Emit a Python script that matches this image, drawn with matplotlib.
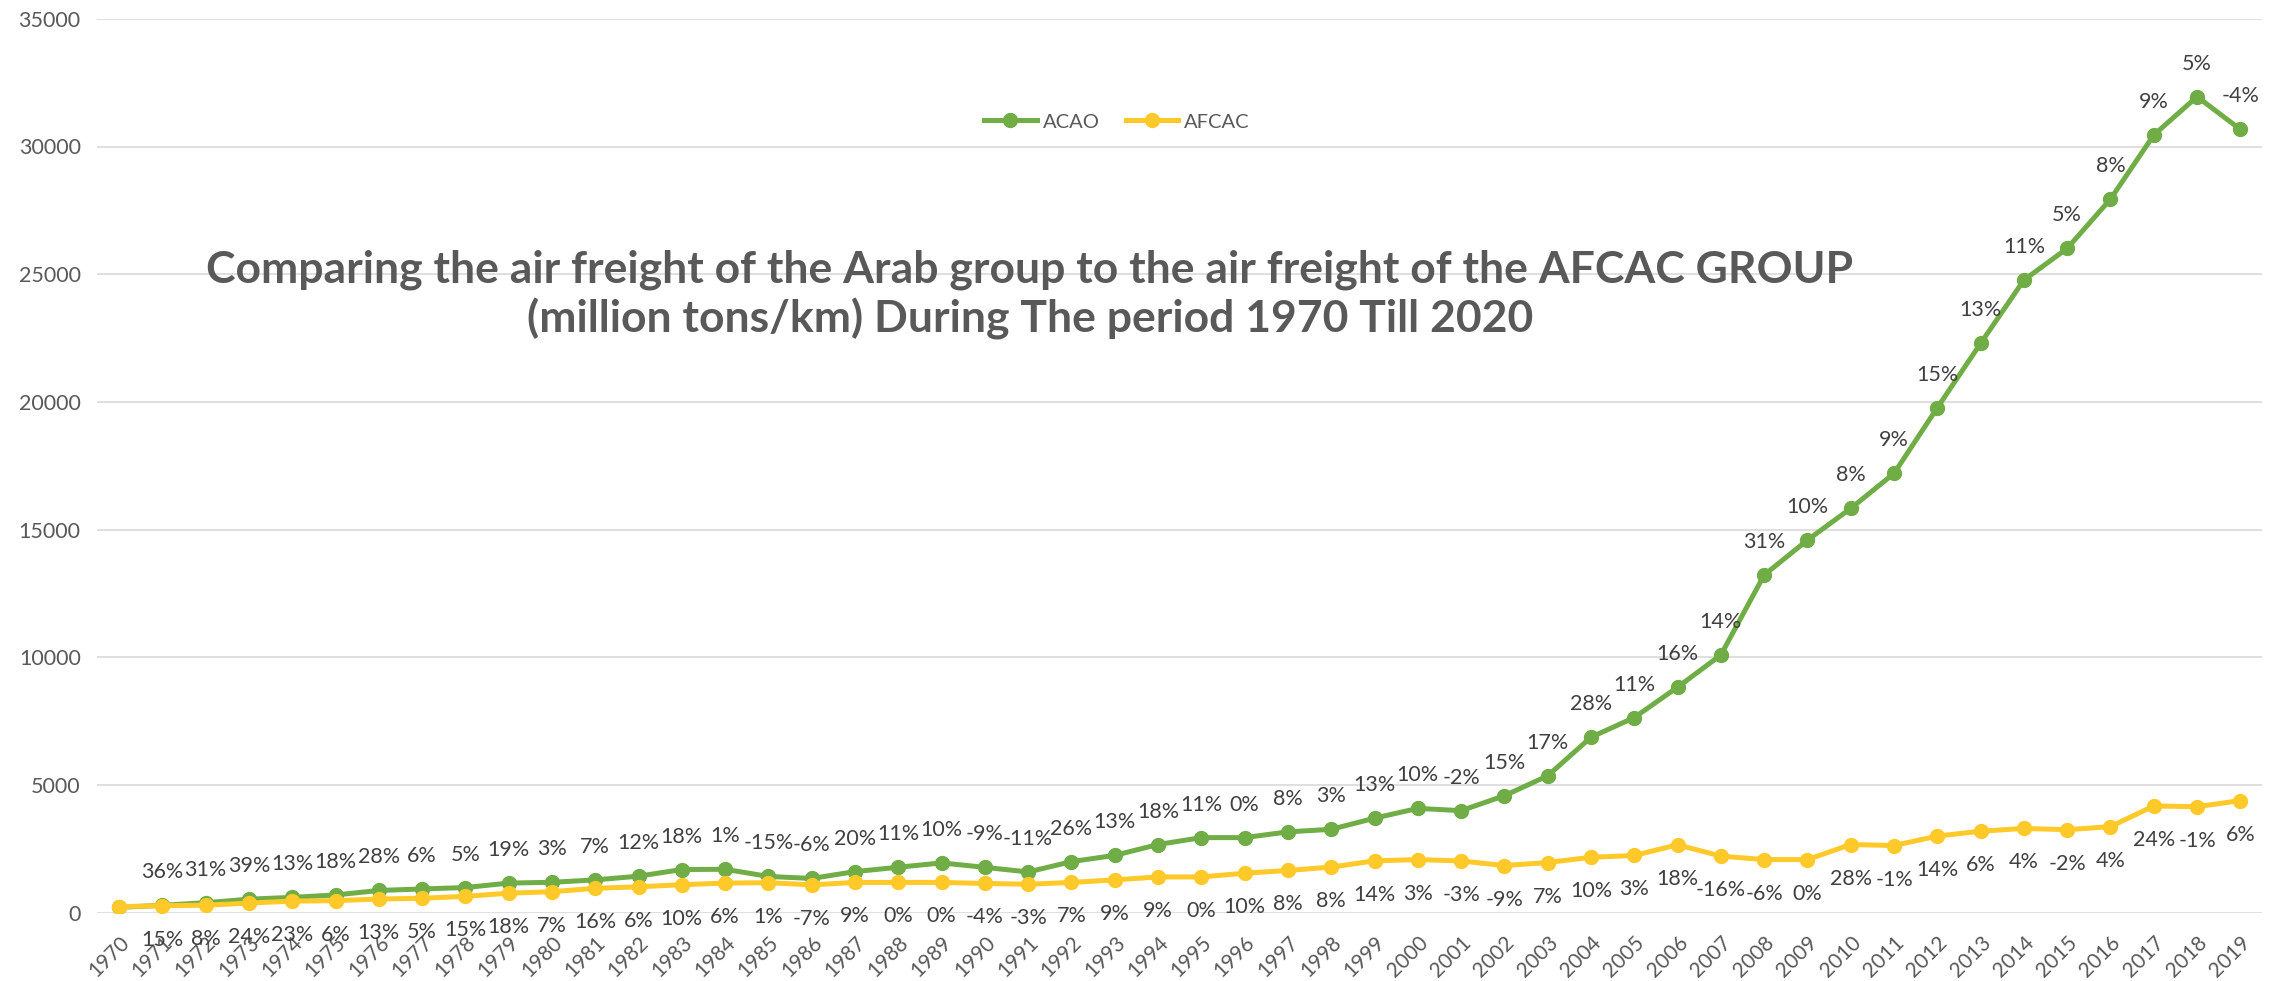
import matplotlib
matplotlib.use("Agg")
import matplotlib.pyplot as plt

plt.rcParams['font.family'] = ['Lato', 'DejaVu Sans']

years = ["1970", "1971", "1972", "1973", "1974", "1975", "1976", "1977", "1978", "1979",
         "1980", "1981", "1982", "1983", "1984", "1985", "1986", "1987", "1988", "1989",
         "1990", "1991", "1992", "1993", "1994", "1995", "1996", "1997", "1998", "1999",
         "2000", "2001", "2002", "2003", "2004", "2005", "2006", "2007", "2008", "2009",
         "2010", "2011", "2012", "2013", "2014", "2015", "2016", "2017", "2018", "2019"]

acao = [210, 290, 390, 530, 600, 695, 870, 930, 985, 1160,
        1190, 1285, 1430, 1690, 1700, 1420, 1340, 1610, 1780, 1950,
        1775, 1595, 2000, 2245, 2670, 2940, 2940, 3165, 3265, 3700,
        4085, 3995, 4580, 5360, 6870, 7640, 8830, 10090, 13220, 14590,
        15830, 17200, 19770, 22290, 24770, 26010, 27940, 30450, 31950, 30670]

afcac = [235, 275, 295, 375, 455, 470, 535, 565, 640, 765,
         822, 955, 1015, 1095, 1160, 1175, 1090, 1185, 1185, 1185,
         1145, 1115, 1185, 1285, 1400, 1400, 1545, 1655, 1785, 2030,
         2080, 2025, 1845, 1965, 2170, 2240, 2660, 2215, 2080, 2080,
         2670, 2630, 3000, 3190, 3300, 3250, 3370, 4180, 4150, 4390]

acao_labels = ["", "36%", "31%", "39%", "13%", "18%", "28%", "6%", "5%", "19%",
               "3%", "7%", "12%", "18%", "1%", "-15%", "-6%", "20%", "11%", "10%",
               "-9%", "-11%", "26%", "13%", "18%", "11%", "0%", "8%", "3%", "13%",
               "10%", "-2%", "15%", "17%", "28%", "11%", "16%", "14%", "31%", "10%",
               "8%", "9%", "15%", "13%", "11%", "5%", "8%", "9%", "5%", "-4%"]

afcac_labels = ["", "15%", "8%", "24%", "23%", "6%", "13%", "5%", "15%", "18%",
                "7%", "16%", "6%", "10%", "6%", "1%", "-7%", "9%", "0%", "0%",
                "-4%", "-3%", "7%", "9%", "9%", "0%", "10%", "8%", "8%", "14%",
                "3%", "-3%", "-9%", "7%", "10%", "3%", "18%", "-16%", "-6%", "0%",
                "28%", "-1%", "14%", "6%", "4%", "-2%", "4%", "24%", "-1%", "6%"]

title_line1 = "Comparing the air freight of the Arab group to the air freight of the AFCAC GROUP"
title_line2 = "(million tons/km) During The period 1970 Till 2020"

GREEN = "#70AD47"
YELLOW = "#FFC929"
TXT = "#595959"
LBL = "#404040"

W, H = 2280, 981
fig = plt.figure(figsize=(W / 100, H / 100), dpi=100)
ax = fig.add_axes([97.4 / W, (H - 912.7) / H, (2262 - 97.4) / W, (912.7 - 18.8) / H])

x = list(range(len(years)))
ax.plot(x, acao, color=GREEN, lw=3.6, marker='o', ms=10, label="ACAO", zorder=3)
ax.plot(x, afcac, color=YELLOW, lw=3.6, marker='o', ms=10, label="AFCAC", zorder=4)

for i, (v, s) in enumerate(zip(acao, acao_labels)):
    if s:
        ax.annotate(s, (i, v), xytext=(0, 33), textcoords='offset pixels',
                    ha='center', va='center', fontsize=15.5, color=LBL, zorder=5)
for i, (v, s) in enumerate(zip(afcac, afcac_labels)):
    if s:
        ax.annotate(s, (i, v), xytext=(0, -34), textcoords='offset pixels',
                    ha='center', va='center', fontsize=15.5, color=LBL, zorder=5)

ax.set_xlim(-0.5, len(years) - 0.5)
ax.set_ylim(0, 35000)
ax.set_yticks(range(0, 35001, 5000))
ax.set_yticklabels([str(v) for v in range(0, 35001, 5000)], fontsize=15.5, color=TXT)
ax.set_xticks(x)
ax.set_xticklabels(years, rotation=45, ha='right', rotation_mode='anchor',
                   fontsize=15, color=TXT)
ax.tick_params(axis='x', length=0, pad=14)
ax.tick_params(axis='y', length=0, pad=12)
for sp in ax.spines.values():
    sp.set_visible(False)
ax.yaxis.grid(True, color="#D9D9D9", lw=1.2)
ax.set_axisbelow(True)

fig.text(1030 / W, 1 - 283 / H, title_line1, ha='center', va='baseline',
         fontsize=32, fontweight='bold', color=TXT)
fig.text(1030 / W, 1 - 333 / H, title_line2, ha='center', va='baseline',
         fontsize=32, fontweight='bold', color=TXT)

leg = fig.legend(loc='center', bbox_to_anchor=(1117 / W, 1 - 122 / H), ncol=2,
                 frameon=False, fontsize=14.5, handlelength=2.6, handletextpad=0.3,
                 columnspacing=1.3, borderpad=0)
for t in leg.get_texts():
    t.set_color(TXT)

fig.savefig("out.png", dpi=100)
